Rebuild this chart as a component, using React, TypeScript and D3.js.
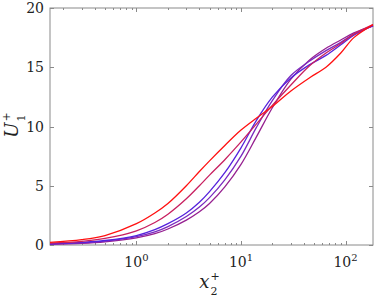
import { useEffect, useRef } from 'react';
import * as d3 from 'd3';

const W = 374;
const H = 297;
const M = { top: 8, right: 1, bottom: 52, left: 50 };

const X_DOMAIN = [0.149, 183];
const Y_DOMAIN = [0, 20];
const Y_TICKS = [0, 5, 10, 15, 20];
const X_TICKS = [1, 10, 100];
const X_TICK_EXP = ['0', '1', '2'];

const xPlus = [0.149, 0.3, 0.5, 1, 1.5, 2, 3, 4, 5, 7, 10, 14, 20, 30, 45, 65, 90, 120, 183];

// mean velocity profiles, one per case
const uRed = [0.22, 0.45, 0.8, 1.8, 2.7, 3.5, 5.0, 6.2, 7.1, 8.4, 9.7, 10.7, 11.7, 13.0, 14.1, 15.0, 16.2, 17.5, 18.6];
const uCrimson = [0.15, 0.3, 0.55, 1.2, 1.9, 2.6, 3.9, 5.0, 5.9, 7.2, 8.7, 10.2, 11.8, 13.5, 15.1, 16.2, 17.0, 17.8, 18.6];
const uBlue = [0.1, 0.22, 0.38, 0.8, 1.3, 1.8, 2.7, 3.6, 4.5, 6.1, 8.2, 10.5, 12.5, 14.1, 15.2, 16.0, 16.9, 17.7, 18.5];
const uPurple1 = [0.08, 0.18, 0.32, 0.7, 1.1, 1.55, 2.4, 3.2, 4.0, 5.5, 7.5, 9.9, 12.2, 14.3, 15.5, 16.4, 17.1, 17.8, 18.5];
const uPurple2 = [0.06, 0.14, 0.27, 0.6, 0.95, 1.35, 2.1, 2.8, 3.5, 4.9, 6.8, 9.1, 11.6, 14.0, 15.6, 16.6, 17.3, 17.9, 18.5];

const series = [uPurple2, uPurple1, uBlue, uCrimson, uRed];
const colors = ['#962090', '#7a2ac0', '#5522dd', '#c82060', '#ff1010'];

const FONT = "'DejaVu Serif', serif";

export default function App() {
  const ref = useRef<SVGSVGElement>(null);

  useEffect(() => {
    if (!ref.current) return;
    const svg = d3.select(ref.current);
    svg.selectAll('*').remove();

    const x = d3.scaleLog().domain(X_DOMAIN).range([M.left, W - M.right]);
    const y = d3.scaleLinear().domain(Y_DOMAIN).range([H - M.bottom, M.top]);
    const x0 = M.left, x1 = W - M.right, y0 = H - M.bottom, y1 = M.top;
    const axisColor = '#8a8a8a';

    svg.append('rect').attr('x', x0).attr('y', y1).attr('width', x1 - x0).attr('height', y0 - y1)
      .attr('fill', 'none').attr('stroke', axisColor).attr('stroke-width', 1);

    // minor + major x ticks (inside, top and bottom)
    const minor: number[] = [];
    for (let e = -1; e <= 2; e++) for (let k = 1; k <= 9; k++) {
      const v = k * Math.pow(10, e);
      if (v >= X_DOMAIN[0] && v <= X_DOMAIN[1]) minor.push(v);
    }
    minor.forEach(v => {
      const major = X_TICKS.includes(v);
      const len = major ? 4 : 2;
      const px = Math.round(x(v)) + 0.5;
      svg.append('line').attr('x1', px).attr('x2', px).attr('y1', y0).attr('y2', y0 - len).attr('stroke', axisColor);
      svg.append('line').attr('x1', px).attr('x2', px).attr('y1', y1).attr('y2', y1 + len).attr('stroke', axisColor);
    });
    Y_TICKS.forEach(v => {
      const py = Math.round(y(v)) + 0.5;
      svg.append('line').attr('x1', x0).attr('x2', x0 + 4).attr('y1', py).attr('y2', py).attr('stroke', axisColor);
      svg.append('line').attr('x1', x1).attr('x2', x1 - 4).attr('y1', py).attr('y2', py).attr('stroke', axisColor);
      svg.append('text').attr('x', x0 - 6).attr('y', y(v) + 5).attr('text-anchor', 'end')
        .attr('font-family', FONT).attr('font-size', 14).attr('fill', '#222').text(v);
    });
    X_TICKS.forEach((v, i) => {
      const t = svg.append('text').attr('x', x(v)).attr('y', y0 + 22).attr('text-anchor', 'middle')
        .attr('font-family', FONT).attr('font-size', 14).attr('fill', '#222');
      t.append('tspan').text('10');
      t.append('tspan').attr('dy', -6).attr('font-size', 10).text(X_TICK_EXP[i]);
    });

    const line = d3.line<number>()
      .x((_, i) => x(xPlus[i]))
      .y(d => y(d))
      .curve(d3.curveCatmullRom.alpha(0.5));

    series.forEach((s, i) => {
      svg.append('path').attr('d', line(s)).attr('fill', 'none')
        .attr('stroke', colors[i]).attr('stroke-width', 1.3);
    });

    // axis labels: base letter, then stacked super/subscripts as separate texts
    const cx = (x0 + x1) / 2;
    svg.append('text').attr('x', cx - 2).attr('y', 288).attr('text-anchor', 'end')
      .attr('font-family', FONT).attr('font-size', 18).attr('font-style', 'italic').attr('fill', '#222').text('x');
    svg.append('text').attr('x', cx - 1).attr('y', 280)
      .attr('font-family', FONT).attr('font-size', 11).attr('fill', '#222').text('+');
    svg.append('text').attr('x', cx - 1).attr('y', 295)
      .attr('font-family', FONT).attr('font-size', 11).attr('fill', '#222').text('2');

    const cy = (y0 + y1) / 2;
    const g = svg.append('g').attr('transform', `translate(0,${cy}) rotate(-90)`);
    g.append('text').attr('x', 4).attr('y', 18).attr('text-anchor', 'end')
      .attr('font-family', FONT).attr('font-size', 18).attr('font-style', 'italic').attr('fill', '#222').text('U');
    g.append('text').attr('x', 5).attr('y', 10)
      .attr('font-family', FONT).attr('font-size', 11).attr('fill', '#222').text('+');
    g.append('text').attr('x', 5).attr('y', 25)
      .attr('font-family', FONT).attr('font-size', 11).attr('fill', '#222').text('1');
  }, []);

  return (
    <svg ref={ref} width={W} height={H}
      style={{ position: 'fixed', left: 0, top: 0, background: '#fff' }} />
  );
}
